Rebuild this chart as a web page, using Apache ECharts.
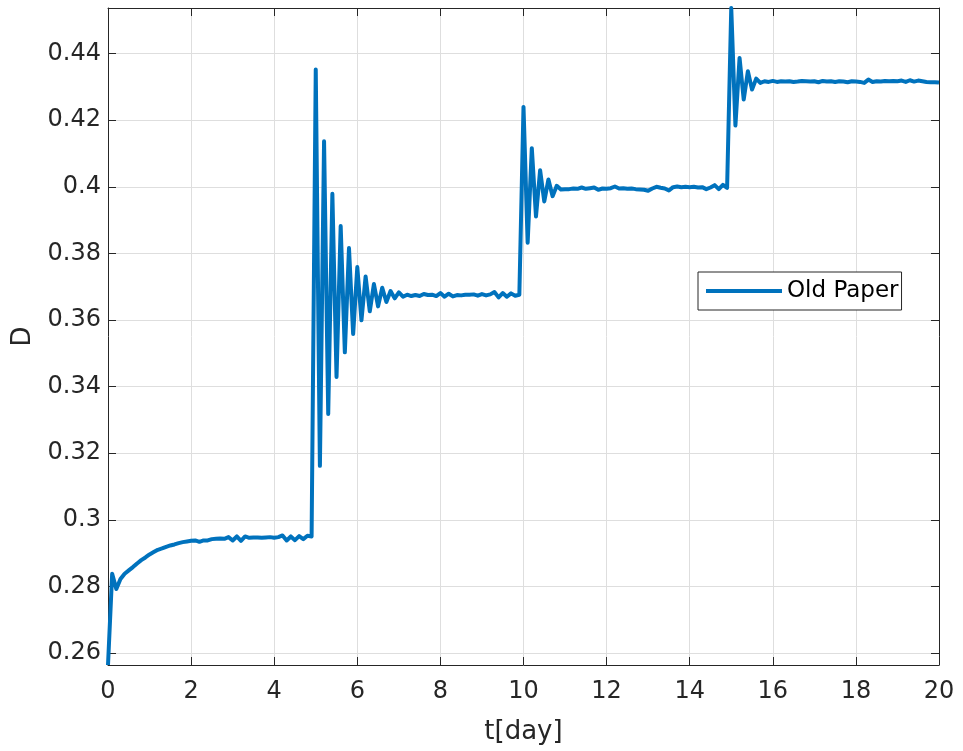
<!DOCTYPE html>
<html>
<head>
<meta charset="utf-8">
<script src="https://cdn.jsdelivr.net/npm/echarts@6/dist/echarts.min.js"></script>
<style>
  html, body { margin: 0; padding: 0; background: #fff; }
  #chart { width: 963px; height: 751px; }
</style>
</head>
<body>
<div id="chart"></div>
<script>
// Sampling step of the simulation output (days)
const timeStep = 0.1;

// D over days 0.0 – 4.9
const rampValues = [
  0.2564, 0.2838, 0.2792, 0.2822, 0.2838, 0.2848, 0.2858, 0.2869, 0.2879, 0.2887,
  0.2896, 0.2903, 0.2910, 0.2914, 0.2919, 0.2923, 0.2926, 0.2930, 0.2933, 0.2935,
  0.2937, 0.2938, 0.2934, 0.2938, 0.2938, 0.2942, 0.2943, 0.2944, 0.2943, 0.2948,
  0.2938, 0.2950, 0.2937, 0.2950, 0.2946, 0.2947, 0.2947, 0.2946, 0.2947, 0.2948,
  0.2946, 0.2948, 0.2953, 0.2938, 0.2950, 0.2939, 0.2951, 0.2942, 0.2952, 0.2950
];

// D over days 5.0 – 9.9
const firstStepValues = [
  0.4352, 0.3162, 0.4137, 0.3318, 0.3979, 0.3429, 0.3882, 0.3503, 0.3816, 0.3558,
  0.3759, 0.3599, 0.3731, 0.3626, 0.3708, 0.3641, 0.3697, 0.3654, 0.3687, 0.3665,
  0.3683, 0.3670, 0.3676, 0.3672, 0.3675, 0.3672, 0.3678, 0.3675, 0.3676, 0.3672,
  0.3681, 0.3670, 0.3679, 0.3671, 0.3675, 0.3674, 0.3676, 0.3676, 0.3677, 0.3673,
  0.3678, 0.3674, 0.3677, 0.3684, 0.3668, 0.3681, 0.3670, 0.3680, 0.3673, 0.3676
];

// D over days 10.0 – 14.9
const secondStepValues = [
  0.4240, 0.3832, 0.4116, 0.3911, 0.4050, 0.3956, 0.4022, 0.3972, 0.4003, 0.3992,
  0.3993, 0.3993, 0.3995, 0.3994, 0.3998, 0.3994, 0.3996, 0.3998, 0.3991, 0.3995,
  0.3994, 0.3996, 0.4001, 0.3995, 0.3996, 0.3994, 0.3995, 0.3993, 0.3992, 0.3991,
  0.3988, 0.3995, 0.4000, 0.3997, 0.3995, 0.3989, 0.3999, 0.4001, 0.3999, 0.4000,
  0.3999, 0.4000, 0.3998, 0.3999, 0.3993, 0.3998, 0.4005, 0.3993, 0.4006, 0.3997
];

// D over days 15.0 – 20.0
const thirdStepValues = [
  0.4537, 0.4184, 0.4387, 0.4262, 0.4347, 0.4292, 0.4325, 0.4312, 0.4317, 0.4315,
  0.4318, 0.4315, 0.4317, 0.4316, 0.4317, 0.4315, 0.4316, 0.4318, 0.4317, 0.4316,
  0.4317, 0.4314, 0.4318, 0.4316, 0.4317, 0.4315, 0.4317, 0.4316, 0.4314, 0.4317,
  0.4316, 0.4315, 0.4312, 0.4322, 0.4315, 0.4317, 0.4316, 0.4318, 0.4317, 0.4318,
  0.4317, 0.4319, 0.4315, 0.4320, 0.4316, 0.4319, 0.4317, 0.4315, 0.4314, 0.4314,
  0.4313
];

const yTicks = [0.26, 0.28, 0.30, 0.32, 0.34, 0.36, 0.38, 0.40, 0.42, 0.44];
const seriesName = 'Old Paper';

const dValues = rampValues.concat(firstStepValues, secondStepValues, thirdStepValues);
const points = dValues.map((v, i) => [Number((i * timeStep).toFixed(1)), v]);

const axisColor = '#262626';
const gridColor = '#dedede';
const lineColor = '#0072BD';
const fontFamily = 'DejaVu Sans';
const fmtY = v => String(Number(v.toFixed(2)));

const chart = echarts.init(document.getElementById('chart'), null, { renderer: 'canvas' });

chart.setOption({
  animation: false,
  backgroundColor: '#ffffff',
  textStyle: { fontFamily: fontFamily, color: axisColor },
  grid: { left: 108, right: 24, top: 8, bottom: 86, containLabel: false },
  legend: {
    data: [{ name: seriesName, icon: 'rect' }],
    left: 698,
    top: 272,
    orient: 'vertical',
    padding: [7, 3, 7, 8],
    itemWidth: 76,
    itemHeight: 4,
    itemGap: 0,
    backgroundColor: '#ffffff',
    borderColor: axisColor,
    borderWidth: 1,
    borderRadius: 0,
    itemStyle: { color: lineColor, borderWidth: 0 },
    textStyle: { fontFamily: fontFamily, fontSize: 23, color: '#000000', lineHeight: 24 }
  },
  xAxis: [
    {
      type: 'value',
      min: 0,
      max: 20,
      interval: 2,
      name: 't[day]',
      nameLocation: 'middle',
      nameGap: 54,
      nameTextStyle: { fontFamily: fontFamily, fontSize: 26, color: axisColor },
      axisLine: { show: true, onZero: false, lineStyle: { color: axisColor, width: 1 } },
      axisTick: { show: true, inside: true, length: 8, lineStyle: { color: axisColor } },
      axisLabel: { fontFamily: fontFamily, fontSize: 24, color: axisColor, margin: 15 },
      splitLine: { show: true, lineStyle: { color: gridColor, width: 1 } }
    },
    {
      type: 'value',
      position: 'top',
      min: 0,
      max: 20,
      interval: 2,
      axisLine: { show: true, onZero: false, lineStyle: { color: axisColor, width: 1 } },
      axisTick: { show: true, inside: true, length: 8, lineStyle: { color: axisColor } },
      axisLabel: { show: false },
      splitLine: { show: false }
    }
  ],
  yAxis: [
    {
      type: 'value',
      min: 0.2564,
      max: 0.4537,
      name: 'D',
      nameLocation: 'middle',
      nameGap: 70,
      nameTextStyle: { fontFamily: fontFamily, fontSize: 26, color: axisColor },
      axisLine: { show: true, onZero: false, lineStyle: { color: axisColor, width: 1 } },
      axisTick: { show: true, inside: true, length: 8, lineStyle: { color: axisColor }, customValues: yTicks },
      axisLabel: { fontFamily: fontFamily, fontSize: 24, color: axisColor, margin: 7, customValues: yTicks, formatter: fmtY },
      splitLine: { show: true, lineStyle: { color: gridColor, width: 1 } }
    },
    {
      type: 'value',
      position: 'right',
      min: 0.2564,
      max: 0.4537,
      axisLine: { show: true, onZero: false, lineStyle: { color: axisColor, width: 1 } },
      axisTick: { show: true, inside: true, length: 8, lineStyle: { color: axisColor }, customValues: yTicks },
      axisLabel: { show: false, customValues: yTicks },
      splitLine: { show: false }
    }
  ],
  series: [
    {
      name: seriesName,
      type: 'line',
      xAxisIndex: 0,
      yAxisIndex: 0,
      data: points,
      symbol: 'none',
      showSymbol: false,
      clip: true,
      lineStyle: { color: lineColor, width: 4, join: 'round' },
      itemStyle: { color: lineColor }
    }
  ]
});
</script>
</body>
</html>
